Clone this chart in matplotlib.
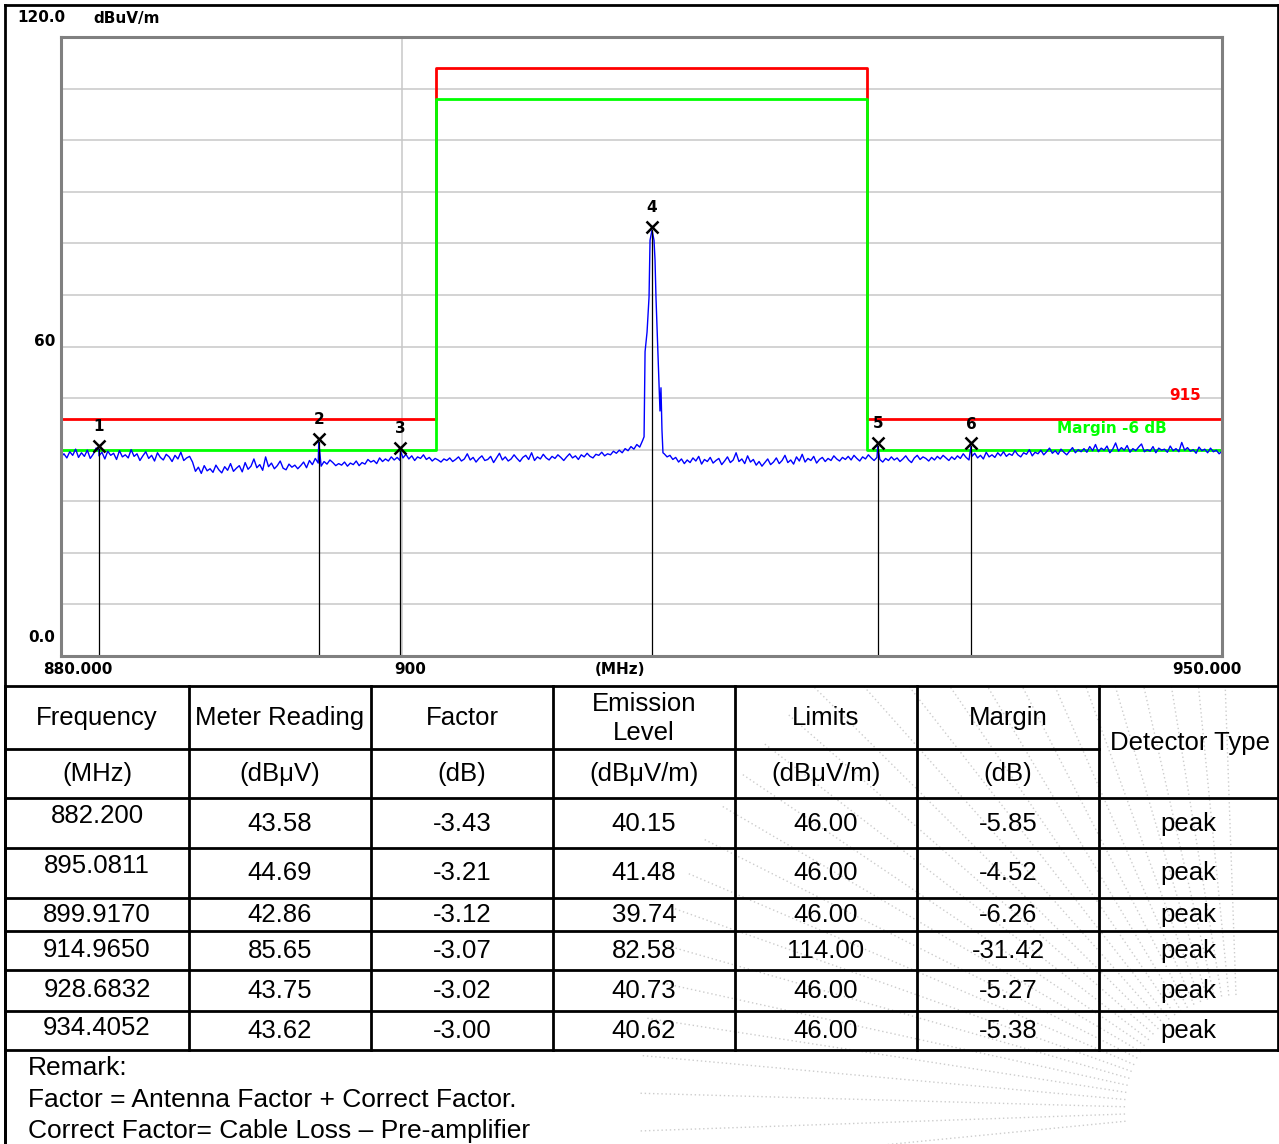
import numpy as np
import matplotlib
matplotlib.use("Agg")
import matplotlib.pyplot as plt

W, H = 1279, 1144

# ---- spectrum data (MHz, dBuV/m) ----
noise_left = [
    38.6, 39.2, 38.4, 39.6, 38.9, 40.1, 38.5, 39.4, 38.7, 39.9, 38.3, 39.1, 40.3, 38.8, 39.5, 38.2,
    39.7, 38.9, 39.3, 38.1, 39.8, 38.6, 39.0, 38.4, 40.0, 38.7, 39.2, 37.9, 38.8, 39.6, 38.3, 38.9,
    37.8, 39.4, 38.5, 38.0, 39.1, 38.6, 37.7, 38.9, 38.2, 39.5, 37.9, 38.4, 38.7, 37.6,
    35.8, 36.6, 35.4, 36.9, 35.9, 36.3, 35.6, 37.0, 36.1, 35.5, 36.7, 36.0, 37.3, 35.8, 36.4, 36.9,
    35.7, 37.5, 36.2, 36.8, 38.2, 36.5, 37.1, 36.0, 38.6, 36.7, 37.4, 36.3, 36.9, 37.8, 36.4, 36.1,
    37.2, 36.6, 37.0, 36.3,
    36.9, 37.6, 36.5, 37.9, 37.1, 38.3, 37.4, 36.8, 37.7, 37.2, 38.0, 37.5, 36.9, 37.3, 37.0, 37.6,
    36.8, 37.4, 37.1, 37.8, 36.9, 37.5, 37.2, 38.1, 37.6, 37.9, 37.3, 38.4, 37.7, 38.2, 37.8, 38.6,
    38.0, 38.5, 37.9,
    38.4, 39.1, 38.2, 38.8, 37.9, 38.6, 38.3, 39.0, 38.1, 38.5, 37.8, 38.3, 38.0, 37.6, 38.2, 37.9,
    38.4, 37.7, 38.1, 38.6, 37.8, 38.2, 39.2, 38.0, 38.5, 37.6, 38.3, 38.8, 37.9, 38.1, 38.7, 37.5,
    38.4, 39.3, 38.0, 38.6, 37.8, 38.2, 39.0, 38.3, 37.7, 38.5, 38.9, 38.1, 39.4, 37.9, 38.6, 38.2,
    39.1, 38.4, 38.0, 38.7, 38.3, 39.0, 38.5, 37.9, 38.6, 39.2, 38.4, 38.8, 38.1, 39.0, 38.6, 39.3,
    38.7, 38.4, 39.1, 38.9, 39.5, 38.8, 39.2, 39.0, 39.7, 39.3, 39.9, 39.4, 40.2, 39.8, 40.6, 40.1,
    41.0, 40.5, 41.8,
]
noise_right = [
    39.2, 38.6, 38.9, 38.1, 38.5, 37.6, 38.2, 37.3, 38.0, 37.5, 38.4, 37.8, 38.7, 37.2, 38.1, 37.7,
    38.5, 37.4, 37.9, 38.3, 37.1, 37.8, 38.6, 37.5, 38.0, 39.4, 37.7, 38.2, 37.3, 38.8, 37.6, 38.1,
    37.0, 37.7, 36.8, 37.5, 38.2, 37.1, 37.6, 38.4, 37.3, 37.9, 38.9, 37.5, 38.0, 37.2, 38.6, 37.8,
    39.1, 37.6, 38.3, 37.9, 38.7, 37.4, 38.1, 38.5, 37.7, 38.3, 37.9, 38.8, 38.2, 37.8, 38.5,
    38.1, 38.7, 38.0, 38.9, 38.3, 37.8, 38.6, 38.2, 39.0, 38.4, 37.9, 38.5, 38.1, 37.6, 38.3, 37.9,
    38.6, 38.0, 38.4, 37.7, 38.2, 38.8, 38.0, 37.5, 38.4, 38.9, 38.1, 38.6, 38.3, 37.8, 38.5, 38.0,
    38.7, 38.2, 38.9, 38.4, 37.9, 38.6, 38.1, 38.8, 38.3, 39.2, 38.5, 38.0, 38.7, 39.3, 38.4, 38.9,
    38.2, 39.5, 38.6, 39.0, 38.5, 39.4, 38.8,
    39.6, 38.7, 39.2, 38.9, 39.8, 39.0, 38.6, 39.4, 39.1, 40.0, 38.8, 39.5, 39.2, 39.9, 39.0, 39.6,
    40.3, 39.3, 39.8, 39.1, 40.1, 39.5, 39.0, 39.7, 40.4, 39.4, 40.0, 39.6,
    40.2, 39.5, 40.6, 39.8, 41.0, 39.6, 40.3, 39.9, 40.7, 39.4, 40.1, 41.3, 39.7, 40.4, 39.9, 40.8,
    39.5, 40.2, 39.8, 40.5, 41.1, 39.6, 40.0, 39.7, 40.6, 39.4, 40.3, 39.9, 40.1, 39.5, 40.7, 39.8,
    40.2, 39.6, 41.4, 39.9, 40.4, 39.7, 40.0, 39.3, 40.5, 39.8, 40.1, 39.4, 40.3, 39.6, 39.9, 39.2,
    39.7,
]
peak_freq = [914.485, 914.545, 914.665, 914.785, 914.845, 914.965, 915.085, 915.145,
             915.205, 915.325, 915.385, 915.445, 915.505, 915.565, 915.625]
peak_level = [42.5, 59.0, 62.8, 69.6, 80.6, 82.58, 80.6, 76.8,
              69.4, 58.0, 52.9, 47.5, 52.0, 43.8, 39.4]

# limit lines
limit_freq = [880, 902, 902, 928, 928, 950]
limit_level = [46, 46, 114, 114, 46, 46]
margin_level = [40, 40, 108, 108, 40, 40]

# ---- table data ----
freqs = ["882.200", "895.0811", "899.9170", "914.9650", "928.6832", "934.4052"]
meter = ["43.58", "44.69", "42.86", "85.65", "43.75", "43.62"]
factor = ["-3.43", "-3.21", "-3.12", "-3.07", "-3.02", "-3.00"]
emission = [40.15, 41.48, 39.74, 82.58, 40.73, 40.62]
limits = ["46.00", "46.00", "46.00", "114.00", "46.00", "46.00"]
margin = ["-5.85", "-4.52", "-6.26", "-31.42", "-5.27", "-5.38"]
detector = ["peak"] * 6
marker_freq = [float(f) for f in freqs]

# merge trace pieces
f_left = np.geomspace(880.0, 914.40, len(noise_left))
f_right = np.geomspace(915.70, 950.0, len(noise_right))
tr_f = np.concatenate([f_left, peak_freq, f_right, marker_freq])
tr_l = np.concatenate([noise_left, peak_level, noise_right, emission])
order = np.argsort(tr_f)
tr_f, tr_l = tr_f[order], tr_l[order]

fig = plt.figure(figsize=(W / 100, H / 100), dpi=100)
bg = fig.add_axes([0, 0, 1, 1])
bg.set_xlim(0, W)
bg.set_ylim(H, 0)
bg.axis("off")

# faint watermark rays, only inside the table area
clip = plt.Rectangle((5, 687), W, H - 687, transform=bg.transData)
cx, cy = 1240, 1110
for ang in np.arange(92, 188, 3.6):
    a = np.deg2rad(ang)
    r0, r1 = 115, 600
    ln, = bg.plot([cx + r0 * np.cos(a), cx + r1 * np.cos(a)],
                  [cy - r0 * np.sin(a), cy - r1 * np.sin(a)],
                  color="#cccccc", lw=1, ls=(0, (1, 2)), zorder=0)
    ln.set_clip_path(clip)

# outer frame
bg.plot([5, 5], [5, H], color="black", lw=2)
bg.plot([5, W - 1], [5, 5], color="black", lw=2)
bg.plot([W - 1, W - 1], [5, 686], color="black", lw=2)

# ---- spectrum axes ----
L, R, T, B = 61, 1222, 37, 656
ax = fig.add_axes([L / W, 1 - B / H, (R - L) / W, (B - T) / H])
ax.set_xscale("log")
ax.set_xlim(880, 950)
ax.set_ylim(0, 120)
ax.tick_params(which="both", length=0, labelbottom=False, labelleft=False)
ax.minorticks_off()
for s in ax.spines.values():
    s.set_color("#808080")
    s.set_linewidth(2.2)
for yv in range(10, 120, 10):
    ax.axhline(yv, color="#c8c8c8", lw=1.1, zorder=0)
ax.axvline(900, color="#c8c8c8", lw=1.1, zorder=0)

ax.plot(limit_freq, limit_level, color="#ff0000", lw=2)
ax.plot(limit_freq, margin_level, color="#00ff00", lw=2)
ax.plot(tr_f, tr_l, color="#0000ff", lw=1.0)

for i, (mf, ml) in enumerate(zip(marker_freq, emission)):
    ax.plot([mf, mf], [0, ml], color="black", lw=0.9)
    ax.plot(mf, ml + 0.6, marker="x", color="black", ms=9, mew=1.8)
    ax.annotate(str(i + 1), (mf, ml), xytext=(0, 16), textcoords="offset points",
                ha="center", va="center", fontsize=11, fontweight="bold")

# axis texts (pixel positions)
lab = dict(fontsize=11, fontweight="bold", family="DejaVu Sans", va="center")
bg.text(17, 18, "120.0", ha="left", **lab)
bg.text(93, 18, "dBuV/m", ha="left", **lab)
bg.text(55, 341, "60", ha="right", **lab)
bg.text(55, 637, "0.0", ha="right", **lab)
bg.text(78, 670, "880.000", ha="center", **lab)
bg.text(410, 670, "900", ha="center", **lab)
bg.text(620, 670, "(MHz)", ha="center", **lab)
bg.text(1207, 670, "950.000", ha="center", **lab)
ax.text(1185, 396, "915", ha="center", color="#ff0000", transform=bg.transData, **lab)
ax.text(1112, 428, "Margin -6 dB", ha="center", color="#00ff00", transform=bg.transData, **lab)

# ---- table ----
cols = [5, 189, 371, 553, 735, 917, 1099, W - 1]
rows = [686, 749, 798, 848, 898, 931, 970, 1011, 1050]
tl = dict(color="black", lw=2, solid_capstyle="projecting")
for y in rows:
    if y == 749:
        bg.plot([cols[0], cols[6]], [y, y], **tl)
    else:
        bg.plot([cols[0], cols[-1]], [y, y], **tl)
for x in cols:
    bg.plot([x, x], [rows[0], rows[-1]], **tl)
bg.plot([5, 5], [rows[-1], H], **tl)

tf = dict(fontsize=18.5, family="Liberation Sans", ha="center", va="center")
ccx = [(cols[i] + cols[i + 1]) / 2 for i in range(7)]
head1 = ["Frequency", "Meter Reading", "Factor", None, "Limits", "Margin"]
head2 = ["(MHz)", "(dBμV)", "(dB)", "(dBμV/m)", "(dBμV/m)", "(dB)"]
for i in range(6):
    if head1[i]:
        bg.text(ccx[i], 718, head1[i], **tf)
    bg.text(ccx[i], 774, head2[i], **tf)
bg.text(ccx[3], 704, "Emission", **tf)
bg.text(ccx[3], 733, "Level", **tf)
bg.text(ccx[6] + 1, 743, "Detector Type", **tf)

y_freq = [816, 866, 915, 950, 990, 1028]
y_val = [824, 873, 915, 951, 991, 1031]
for r in range(6):
    bg.text(ccx[0], y_freq[r], freqs[r], **tf)
    vals = [meter[r], factor[r], "%.2f" % emission[r], limits[r], margin[r], detector[r]]
    for c, v in enumerate(vals):
        bg.text(ccx[c + 1], y_val[r], v, **tf)

rl = dict(fontsize=19, family="Liberation Sans", ha="left", va="center")
bg.text(28, 1068, "Remark:", **rl)
bg.text(28, 1100, "Factor = Antenna Factor + Correct Factor.", **rl)
bg.text(28, 1131, "Correct Factor= Cable Loss \u2013 Pre-amplifier", **rl)

fig.savefig("out.png", dpi=100)
